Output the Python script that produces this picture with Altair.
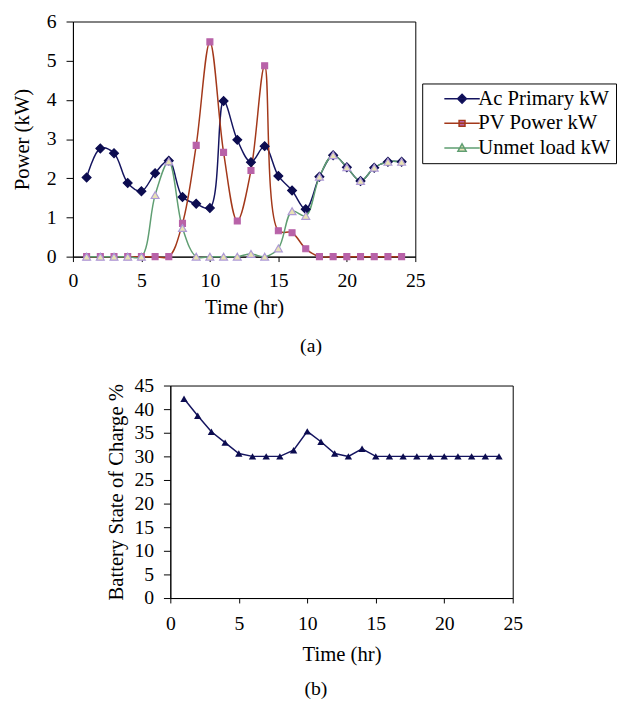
import altair as alt
import pandas as pd

hours = list(range(1, 25))
ac_primary = [2.02, 2.76, 2.64, 1.88, 1.67, 2.13, 2.45, 1.52, 1.35, 1.24, 3.97, 2.98,
              2.41, 2.82, 2.06, 1.69, 1.21, 2.04, 2.59, 2.28, 1.93, 2.27, 2.42, 2.42]
pv_power = [0, 0, 0, 0, 0, 0, 0, 0.85, 2.84, 5.48, 2.66, 0.91,
            2.20, 4.87, 0.66, 0.61, 0.20, 0, 0, 0, 0, 0, 0, 0]
unmet_load = [0, 0, 0, 0, 0, 1.57, 2.43, 0.73, 0, 0, 0, 0,
              0.07, 0, 0.21, 1.16, 1.04, 2.04, 2.59, 2.28, 1.93, 2.27, 2.42, 2.42]
soc = [42.2, 38.6, 35.2, 32.9, 30.6, 30.0, 30.0, 30.0, 31.3, 35.3, 33.1, 30.6,
       30.0, 31.6, 30.0, 30.0, 30.0, 30.0, 30.0, 30.0, 30.0, 30.0, 30.0, 30.0]

names = ["Ac Primary kW", "PV Power kW", "Unmet load kW"]
line_colors = ["#14145f", "#a3381a", "#5f9e72"]
marker_fills = ["#0c0c50", "#b862a8", "#e8e2b4"]
marker_strokes = ["#0c0c50", "#b862a8", "#ae9ad6"]
marker_shapes = ["diamond", "square", "triangle-up"]
marker_sizes = [80, 36, 64]
legend_paths = [
    "M-3,0L3,0M0,-0.75L0.75,0L0,0.75L-0.75,0Z",
    "M-3,0L3,0M-0.5,-0.5L0.5,-0.5L0.5,0.5L-0.5,0.5Z",
    "M-3,0L3,0M0,-0.7L0.7,0.55L-0.7,0.55Z",
]

series_values = [ac_primary, pv_power, unmet_load]
rows = []
for name, vals in zip(names, series_values):
    for h, v in zip(hours, vals):
        rows.append({"hour": h, "value": v, "series": name})
df = pd.DataFrame(rows)
soc_df = pd.DataFrame({"hour": hours, "soc": soc})

FONT = "Liberation Serif"

x_top = alt.X("hour:Q", scale=alt.Scale(domain=[0, 25], nice=False),
              axis=alt.Axis(values=[0, 5, 10, 15, 20, 25], title="Time (hr)"))
y_top = alt.Y("value:Q", scale=alt.Scale(domain=[0, 6], nice=False),
              axis=alt.Axis(values=[0, 1, 2, 3, 4, 5, 6], title="Power (kW)", titlePadding=14))

layers = []
for i, name in enumerate(names):
    base = alt.Chart(df).transform_filter(alt.datum.series == name)
    layers.append(base.mark_line(interpolate="catmull-rom", color=line_colors[i], strokeWidth=1.5)
                  .encode(x=x_top, y=y_top))
for i, name in enumerate(names):
    base = alt.Chart(df).transform_filter(alt.datum.series == name)
    layers.append(base.mark_point(shape=marker_shapes[i], filled=True, fill=marker_fills[i],
                                  stroke=marker_strokes[i], strokeWidth=1.2,
                                  size=marker_sizes[i], opacity=1)
                  .encode(x=x_top, y=y_top))

legend_layer = alt.Chart(df).transform_filter("false").mark_point(filled=True, opacity=1).encode(
    x=x_top, y=y_top,
    shape=alt.Shape("series:N", scale=alt.Scale(domain=names, range=legend_paths), title=None),
    fill=alt.Fill("series:N", scale=alt.Scale(domain=names, range=marker_fills), title=None),
    stroke=alt.Stroke("series:N", scale=alt.Scale(domain=names, range=line_colors), title=None),
)
layers.append(legend_layer)

top = alt.layer(*layers).properties(
    width=348, height=239,
    title=alt.TitleParams("(a)", orient="bottom", dx=68, offset=19, font=FONT,
                          fontSize=20, fontWeight="normal", color="black"),
)

x_bot = alt.X("hour:Q", scale=alt.Scale(domain=[0, 25], nice=False),
              axis=alt.Axis(values=[0, 5, 10, 15, 20, 25], title="Time (hr)",
                            labelPadding=11, titlePadding=10))
y_bot = alt.Y("soc:Q", scale=alt.Scale(domain=[0, 45], nice=False),
              axis=alt.Axis(values=list(range(0, 50, 5)), title="Battery State of Charge %",
                            titlePadding=8))

bottom = alt.layer(
    alt.Chart(soc_df).mark_line(color="#14145f", strokeWidth=1.5).encode(x=x_bot, y=y_bot),
    alt.Chart(soc_df).mark_point(shape="triangle-up", filled=True, fill="#0c0c50",
                                 size=56, opacity=1).encode(x=x_bot, y=y_bot),
).properties(
    width=348, height=216,
    title=alt.TitleParams("(b)", orient="bottom", dx=-26, offset=16, font=FONT,
                          fontSize=20, fontWeight="normal", color="black"),
)

spacer = alt.Chart(pd.DataFrame({"a": [0]})).mark_text(text="", opacity=0).encode(
    x=alt.value(0), y=alt.value(0)
).properties(width=1, height=1, view=alt.ViewBackground(strokeOpacity=0))

chart = alt.vconcat(
    top,
    alt.hconcat(spacer, bottom, spacing=31),
    spacing=18,
).properties(
    padding={"left": 3, "top": -3, "right": 0, "bottom": 0},
    background="white",
).configure_view(
    stroke="black", strokeWidth=1
).configure_axis(
    grid=False, domainColor="black", tickColor="black", labelColor="black",
    titleColor="black", labelFont=FONT, titleFont=FONT, labelFontSize=20,
    titleFontSize=21, titleFontWeight="normal", tickSize=6, domainWidth=1,
    tickWidth=1, labelFlush=False,
).configure_axisX(
    labelPadding=9, titlePadding=7, tickSize=5,
).configure_axisY(
    labelPadding=10, tickSize=7,
).configure_legend(
    orient="none", legendX=355, legendY=63, strokeColor="black", fillColor="white",
    padding=5, labelFont=FONT, labelFontSize=21, labelColor="black",
    symbolSize=144, symbolStrokeWidth=1.5, symbolOffset=25, labelOffset=6,
    rowPadding=3, cornerRadius=0, strokeWidth=1,
)

chart.save("out.html", embed_options={"renderer": "svg", "actions": False})
